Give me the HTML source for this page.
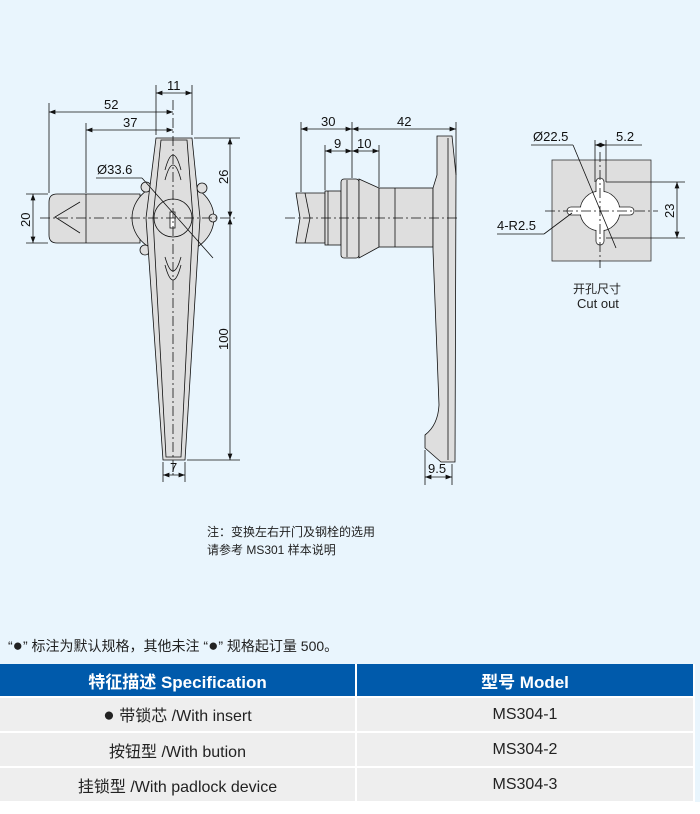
<!DOCTYPE html>
<html><head><meta charset="utf-8"><style>
body{margin:0;width:700px;height:814px;background:#e9f5fd;font-family:"Liberation Sans","Noto Sans CJK SC",sans-serif;position:relative;overflow:hidden}
svg{position:absolute;left:0;top:0}
.t{position:absolute;color:#222;white-space:nowrap}
table{position:absolute;left:0;top:664px;width:695px;border-collapse:collapse;font-size:16px}
td,th{text-align:center;border-right:2px solid #fff;border-bottom:2px solid #fff;padding:0}
th{background:#005aab;color:#fff;height:32px;font-weight:bold;font-size:17px}
td{background:#eeeeee;color:#222;height:33px}
</style></head><body>
<svg width="700" height="660" viewBox="0 0 700 660" font-family="Liberation Sans" font-size="13" fill="none" stroke="#111" stroke-width="0.8">
<defs><marker id="a" markerWidth="8" markerHeight="6" refX="8" refY="3" orient="auto-start-reverse"><path d="M0,0L8,3L0,6z" fill="#111" stroke="none"/></marker></defs>
<!-- LEFT -->
<path d="M140,194 L57,194 Q49,194 49,202 L49,235 Q49,243 57,243 L140,243Z" fill="#dedede"/>
<line x1="86" y1="194" x2="86" y2="243"/>
<path d="M80,202 L55,217 L80,233"/>
<ellipse cx="173" cy="218" rx="41" ry="36" fill="#dedede"/>
<circle cx="146" cy="187" r="5" fill="#dedede"/><circle cx="202" cy="188" r="5" fill="#dedede"/>
<circle cx="145" cy="250" r="5" fill="#dedede"/><circle cx="213" cy="218" r="4" fill="#dedede"/>
<path d="M156,138 L192,138 L200,218 L185,460 L163,460 L146,218 Z" fill="#dedede"/>
<path d="M161,140 L187,140 L193,218 L181,457 L166,457 L153,218 Z"/>
<path d="M165,170 Q173,140 181,170 M165,180 Q173,150 181,180 M165,265 Q173,295 181,265 M165,257 Q173,285 181,257"/>
<circle cx="173" cy="218" r="19"/>
<rect x="170" y="212" width="5" height="16" fill="#fff"/>
<line x1="173" y1="100" x2="173" y2="475" stroke-dasharray="10,3,2,3"/>
<line x1="40" y1="218" x2="235" y2="218" stroke-dasharray="10,3,2,3"/>
<line x1="96" y1="178" x2="142" y2="178"/><line x1="142" y1="178" x2="213" y2="258"/>
<text x="97" y="174" fill="#111" stroke="none">Ø33.6</text>
<line x1="156" y1="85" x2="156" y2="135"/><line x1="192" y1="85" x2="192" y2="135"/>
<line x1="156" y1="93" x2="192" y2="93" marker-start="url(#a)" marker-end="url(#a)"/>
<text x="167" y="90" fill="#111" stroke="none">11</text>
<line x1="49" y1="103" x2="49" y2="193"/><line x1="86" y1="123" x2="86" y2="193"/>
<line x1="49" y1="112" x2="173" y2="112" marker-start="url(#a)" marker-end="url(#a)"/>
<text x="104" y="109" fill="#111" stroke="none">52</text>
<line x1="86" y1="130" x2="173" y2="130" marker-start="url(#a)" marker-end="url(#a)"/>
<text x="123" y="127" fill="#111" stroke="none">37</text>
<line x1="194" y1="138" x2="240" y2="138"/><line x1="187" y1="460" x2="240" y2="460"/>
<line x1="230" y1="138" x2="230" y2="218" marker-start="url(#a)" marker-end="url(#a)"/>
<line x1="230" y1="218" x2="230" y2="460" marker-start="url(#a)" marker-end="url(#a)"/>
<text transform="translate(228,184) rotate(-90)" fill="#111" stroke="none">26</text>
<text transform="translate(228,350) rotate(-90)" fill="#111" stroke="none">100</text>
<line x1="26" y1="194" x2="48" y2="194"/><line x1="26" y1="243" x2="48" y2="243"/>
<line x1="33" y1="194" x2="33" y2="243" marker-start="url(#a)" marker-end="url(#a)"/>
<text transform="translate(30,227) rotate(-90)" fill="#111" stroke="none">20</text>
<line x1="163" y1="462" x2="163" y2="482"/><line x1="185" y1="462" x2="185" y2="482"/>
<line x1="163" y1="475" x2="185" y2="475" marker-start="url(#a)" marker-end="url(#a)"/>
<text x="170" y="472" fill="#111" stroke="none">7</text>
<!-- MIDDLE -->
<path d="M296,193 L325,193 L325,243 L296,243 L300,218 Z" fill="#dedede"/>
<line x1="305" y1="193" x2="310" y2="218"/><line x1="310" y1="218" x2="305" y2="243"/>
<rect x="325" y="191" width="16" height="54" fill="#dedede"/><line x1="328" y1="191" x2="328" y2="245"/>
<rect x="341" y="179" width="18" height="79" rx="3" fill="#dedede"/><line x1="347" y1="180" x2="347" y2="257"/>
<path d="M359,179 L379,188 L379,247 L359,258Z" fill="#dedede"/>
<rect x="379" y="188" width="54" height="59" fill="#dedede"/><line x1="395" y1="188" x2="395" y2="247"/>
<path d="M437,136 L452,136 L456,175 L455,462 L441,462 L425,448 L425,435 Q438,425 439,405 L433,250 L433,188 L437,175 Z" fill="#dedede"/>
<line x1="448" y1="138" x2="448" y2="460"/>
<line x1="285" y1="218" x2="460" y2="218" stroke-dasharray="10,3,2,3"/>
<line x1="301" y1="122" x2="301" y2="192"/><line x1="352" y1="122" x2="352" y2="178"/><line x1="456" y1="122" x2="456" y2="175"/>
<line x1="325" y1="145" x2="325" y2="190"/><line x1="379" y1="145" x2="379" y2="187"/>
<line x1="301" y1="129" x2="352" y2="129" marker-start="url(#a)" marker-end="url(#a)"/>
<line x1="352" y1="129" x2="456" y2="129" marker-start="url(#a)" marker-end="url(#a)"/>
<line x1="325" y1="151" x2="352" y2="151" marker-start="url(#a)" marker-end="url(#a)"/>
<line x1="352" y1="151" x2="379" y2="151" marker-start="url(#a)" marker-end="url(#a)"/>
<text x="321" y="126" fill="#111" stroke="none">30</text><text x="397" y="126" fill="#111" stroke="none">42</text>
<text x="334" y="148" fill="#111" stroke="none">9</text><text x="357" y="148" fill="#111" stroke="none">10</text>
<line x1="425" y1="450" x2="425" y2="485"/><line x1="452" y1="464" x2="452" y2="485"/>
<line x1="425" y1="477" x2="452" y2="477" marker-start="url(#a)" marker-end="url(#a)"/>
<text x="428" y="473" fill="#111" stroke="none">9.5</text>
<!-- RIGHT -->
<rect x="552" y="160" width="99" height="101" fill="#dedede" stroke="#333"/>
<g stroke="#222" fill="#fff">
<circle cx="600" cy="211" r="20"/>
<rect x="596" y="178" width="8" height="67" rx="4"/>
<rect x="567" y="207" width="67" height="8" rx="4"/>
</g>
<g stroke="none" fill="#fff">
<circle cx="600" cy="211" r="19.4"/>
<rect x="596.6" y="178.6" width="6.8" height="65.8" rx="3.4"/>
<rect x="567.6" y="207.6" width="65.8" height="6.8" rx="3.4"/>
</g>
<line x1="545" y1="211" x2="658" y2="211" stroke-dasharray="10,3,2,3"/>
<line x1="600" y1="152" x2="600" y2="268" stroke-dasharray="10,3,2,3"/>
<line x1="531" y1="145" x2="573" y2="145"/><line x1="573" y1="145" x2="616" y2="248"/>
<text x="533" y="141" fill="#111" stroke="none">Ø22.5</text>
<line x1="595" y1="140" x2="595" y2="182"/><line x1="606" y1="140" x2="606" y2="182"/>
<line x1="595" y1="145" x2="606" y2="145" marker-start="url(#a)" marker-end="url(#a)"/>
<line x1="606" y1="145" x2="642" y2="145"/>
<text x="616" y="141" fill="#111" stroke="none">5.2</text>
<line x1="606" y1="182" x2="685" y2="182"/><line x1="606" y1="238" x2="685" y2="238"/>
<line x1="677" y1="182" x2="677" y2="238" marker-start="url(#a)" marker-end="url(#a)"/>
<text transform="translate(674,218) rotate(-90)" fill="#111" stroke="none">23</text>
<line x1="497" y1="234" x2="544" y2="234"/><line x1="544" y1="234" x2="572" y2="213"/>
<text x="497" y="230" fill="#111" stroke="none">4-R2.5</text>
</svg>
<div class="t" style="left:573px;top:280px;font-size:12px">开孔尺寸</div>
<div class="t" style="left:577px;top:296px;font-size:13px">Cut out</div>
<div class="t" style="left:207px;top:523px;font-size:12px;line-height:18px">注：变换左右开门及钢栓的选用<br>请参考 MS301 样本说明</div>
<div class="t" style="left:8px;top:636px;font-size:14px">“<span style="font-size:17px">●</span>” 标注为默认规格，其他未注 “<span style="font-size:17px">●</span>” 规格起订量 500。</div>
<table><tr><th style="width:355px">特征描述 Specification</th><th>型号 Model</th></tr>
<tr><td><span style="font-size:19px">●</span> 带锁芯 /With insert</td><td>MS304-1</td></tr>
<tr><td>按钮型 /With bution</td><td>MS304-2</td></tr>
<tr><td>挂锁型 /With padlock device</td><td>MS304-3</td></tr></table>
<div style="position:absolute;left:0;top:802px;width:700px;height:12px;background:#fff"></div>
</body></html>
